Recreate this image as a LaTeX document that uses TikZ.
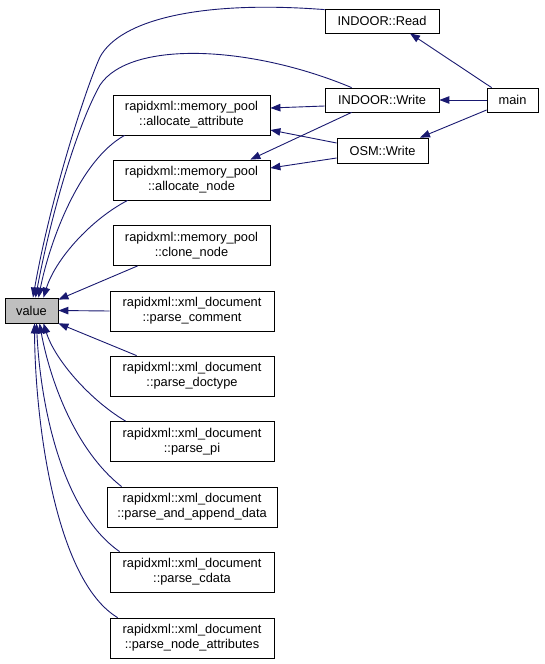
\documentclass[tikz,border=0pt]{standalone}
\usepackage{fontspec}
\setmainfont{Liberation Sans}
\usetikzlibrary{arrows.meta}
\definecolor{edgeblue}{HTML}{191970}
\definecolor{valgray}{HTML}{BFBFBF}
\tikzset{
  box/.style={draw=black, line width=0.8pt, fill=white, inner sep=0pt, align=center,
    font=\fontsize{12.8}{15}\selectfont, minimum width=157pt, minimum height=40pt},
  e/.style={draw=edgeblue, line width=0.9pt, -{Triangle[length=10pt,width=7.5pt]}}
}
\begin{document}
\begin{tikzpicture}[x=1pt,y=-1pt]
\useasboundingbox (0,0) rectangle (544,664);
% nodes
\node[box, fill=valgray, minimum width=53pt, minimum height=25pt] (value) at (31.5,310.5) {value};
\node[box] (aa) at (191.5,115) {rapidxml::memory\_pool\\::allocate\_attribute};
\node[box] (an) at (191.5,180) {rapidxml::memory\_pool\\::allocate\_node};
\node[box] (cn) at (191.5,245.5) {rapidxml::memory\_pool\\::clone\_node};
\node[box, minimum width=164pt] (pc) at (192,311) {rapidxml::xml\_document\\::parse\_comment};
\node[box, minimum width=164pt] (pd) at (192,376) {rapidxml::xml\_document\\::parse\_doctype};
\node[box, minimum width=164pt] (ppi) at (192,441.5) {rapidxml::xml\_document\\::parse\_pi};
\node[box, minimum width=170pt] (pad) at (192,507) {rapidxml::xml\_document\\::parse\_and\_append\_data};
\node[box, minimum width=164pt] (pcd) at (192,572) {rapidxml::xml\_document\\::parse\_cdata};
\node[box, minimum width=164pt] (pna) at (192,638) {rapidxml::xml\_document\\::parse\_node\_attributes};
\node[box, minimum width=114pt, minimum height=24pt] (read) at (382,21) {INDOOR::Read};
\node[box, minimum width=114pt, minimum height=24pt] (iw) at (382,100) {INDOOR::Write};
\node[box, minimum width=91pt, minimum height=25pt] (osm) at (382.5,150.5) {OSM::Write};
\node[box, minimum width=51pt, minimum height=24pt] (main) at (512.5,100) {main};
% edges to value
\draw[e] ([yshift=-1pt]read.north west) .. controls (200,0) and (120,20) .. (100,57)
  .. controls (85,90) and (50,200) .. ([xshift=1.5pt]value.north);
\draw[e] ([xshift=27pt]iw.north west) .. controls (250,45) and (130,40) .. (100,85)
  .. controls (75,130) and (50,220) .. ([xshift=4pt]value.north);
\draw[e] ([xshift=12pt]aa.south west) .. controls (80,160) and (50,240) .. ([xshift=7pt]value.north);
\draw[e] ([xshift=15pt]an.south west) .. controls (90,220) and (55,260) .. ([xshift=12pt]value.north);
\draw[e] ([xshift=25pt]cn.south west) -- ([yshift=-2pt]value.north east);
\draw[e] (pc.west) -- (value.east);
\draw[e] ([xshift=27pt]pd.north west) -- (value.south east);
\draw[e] ([xshift=16pt]ppi.north west) .. controls (90,400) and (55,360) .. ([xshift=12pt]value.south);
\draw[e] ([xshift=15pt]pad.north west) .. controls (75,450) and (50,380) .. ([xshift=8pt]value.south);
\draw[e] ([xshift=10pt]pcd.north west) .. controls (60,510) and (40,400) .. ([xshift=5pt]value.south);
\draw[e] ([xshift=8pt]pna.north west) .. controls (55,580) and (35,420) .. ([xshift=3pt]value.south);
% right side edges
\draw[e] ([yshift=-6pt]iw.west) -- ([yshift=7pt]aa.east);
\draw[e] ([yshift=7.5pt]osm.west) -- ([yshift=-15pt]aa.east);
\draw[e] ([xshift=27pt]iw.south west) -- ([xshift=-20pt]an.north east);
\draw[e] ([yshift=-7.5pt]osm.west) -- ([yshift=12pt]an.east);
\draw[e] ([xshift=5pt]main.north west) -- ([xshift=28pt]read.south);
\draw[e] (main.west) -- (iw.east);
\draw[e] ([yshift=-10pt]main.west) -- ([xshift=37.5pt]osm.north);
\end{tikzpicture}
\end{document}
